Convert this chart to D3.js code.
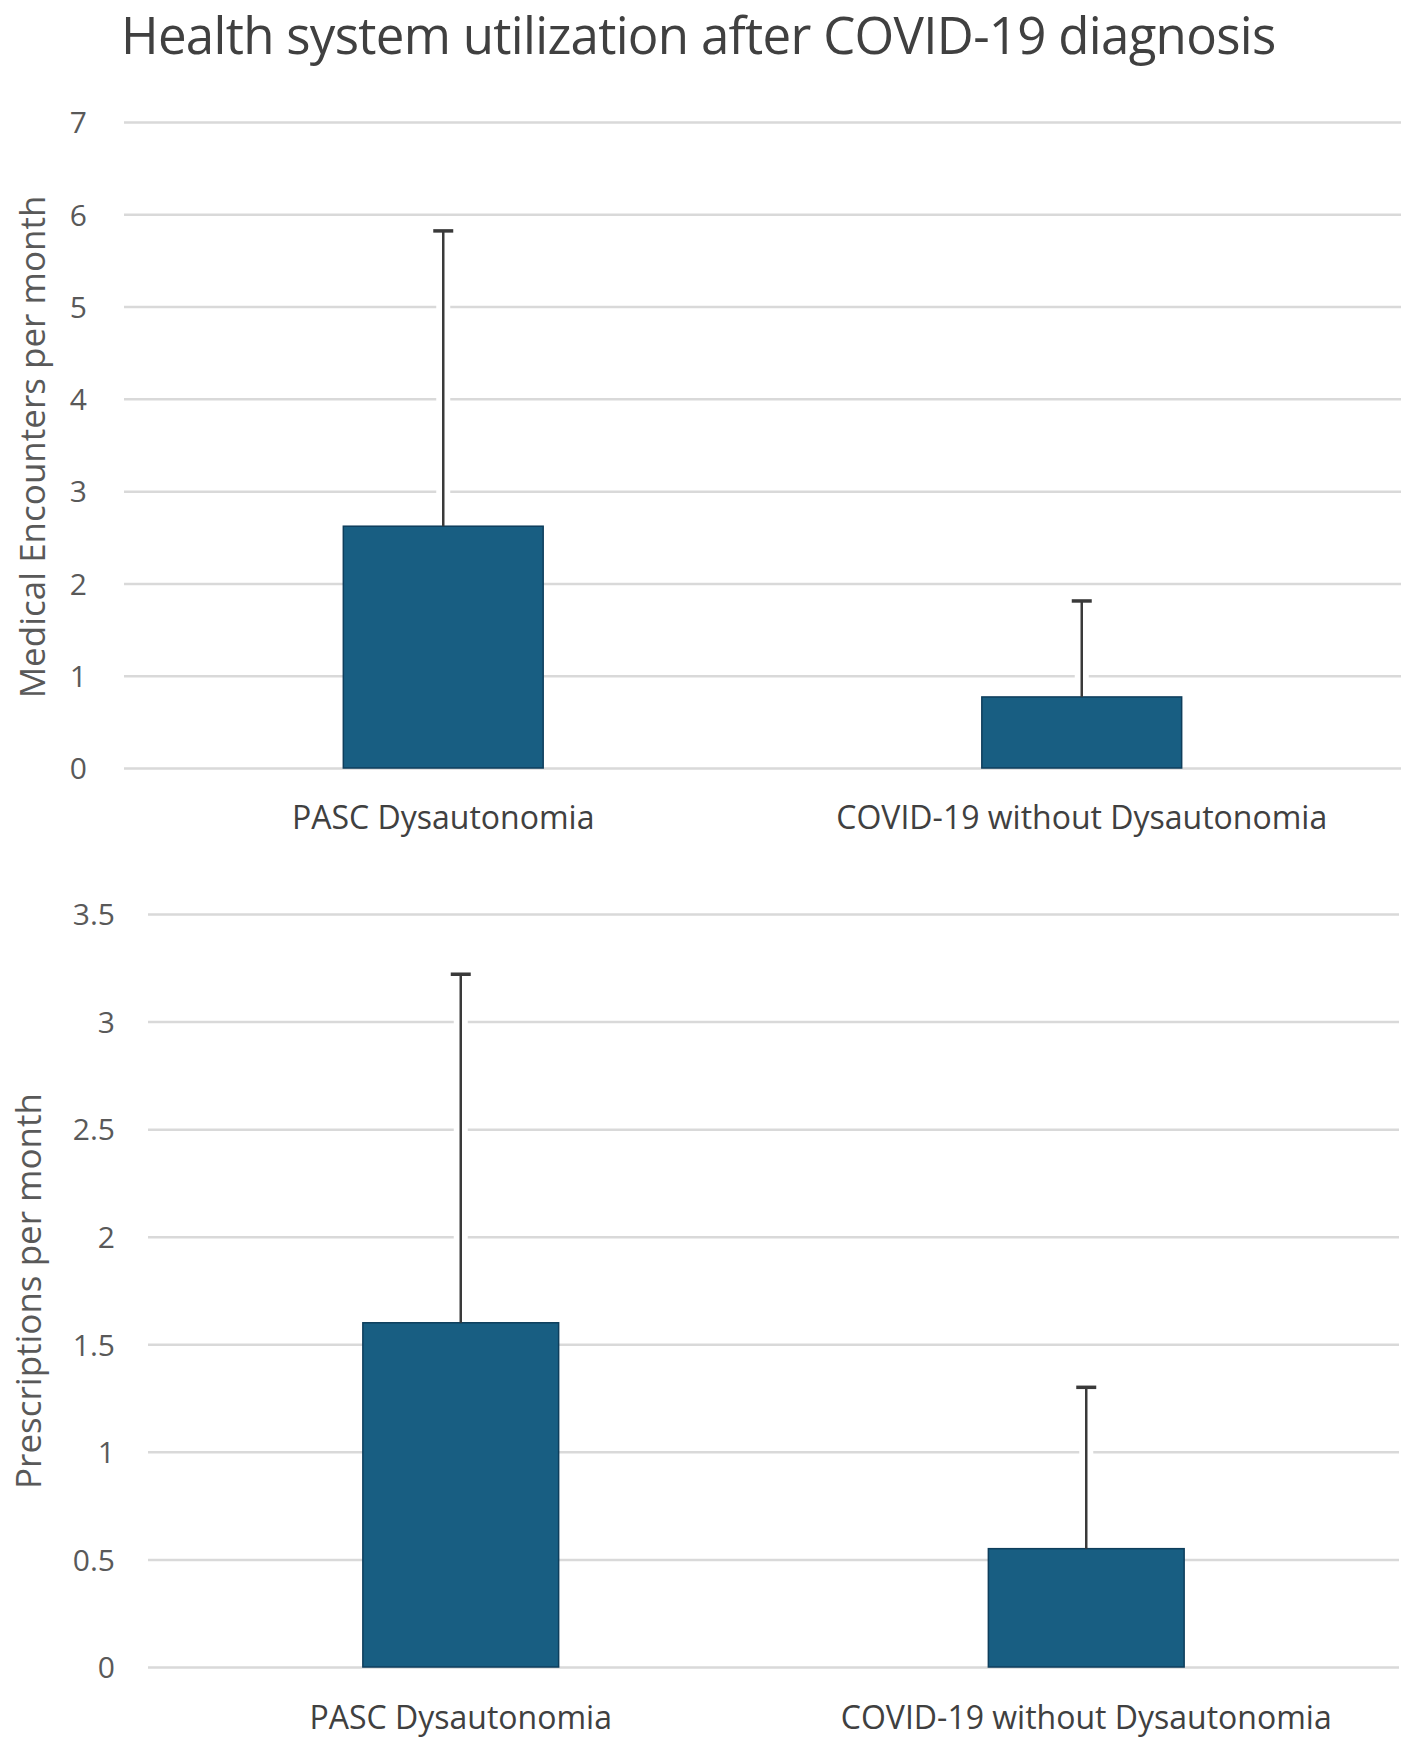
<!DOCTYPE html>
<html lang="en">
    <head>
        <meta charset="UTF-8" />
        <title>Health system utilization after COVID-19 diagnosis</title>
        <script src="https://d3js.org/d3.v7.min.js"></script>
        <style>
            body {
                margin: 0;
                padding: 0;
                background: #fff;
                font-family: 'Open Sans', sans-serif;
            }
            .grid line {
                stroke: #d9d9d9;
                stroke-width: 2.5px;
            }
            .grid text {
                fill: #595959;
                font-size: 30px;
                font-family: 'Open Sans', sans-serif;
            }
            .xlabel {
                fill: #404040;
                font-size: 32px;
            }
            .ytitle {
                fill: #595959;
                font-size: 35px;
            }
            .bar {
                fill: #185e82;
                stroke: #0e3e5c;
                stroke-width: 1.5px;
            }
            .err {
                stroke: #3a3a3a;
                stroke-width: 2.5px;
            }
        </style>
    </head>
    <body>
        <svg id="chart" width="1418" height="1742"></svg>

        <script>
            const categories = ['PASC Dysautonomia', 'COVID-19 without Dysautonomia'];

            // top panel: medical encounters per month (mean, mean + SD)
            const encounterMean = [2.62, 0.77];
            const encounterSD = [3.2, 1.04];
            const encounterTicks = [0, 1, 2, 3, 4, 5, 6, 7];

            // bottom panel: prescriptions per month
            const prescriptionMean = [1.6, 0.55];
            const prescriptionSD = [1.62, 0.75];
            const prescriptionTicks = [0, 0.5, 1, 1.5, 2, 2.5, 3, 3.5];

            const svg = d3.select('#chart');

            svg.append('text')
                .attr('x', 121)
                .attr('y', 54)
                .attr('fill', '#404040')
                .style('font-size', '51px')
                .style('letter-spacing', '-0.7px')
                .text('Health system utilization after COVID-19 diagnosis');

            const drawPanel = (cfg) => {
                const x = d3.scaleBand().domain(categories).range([cfg.left, cfg.right]).padding(0);
                const y = d3.scaleLinear().domain([0, d3.max(cfg.ticks)]).range([cfg.bottom, cfg.top]);
                const barW = x.bandwidth() * 0.313;

                const grid = svg.append('g')
                    .attr('class', 'grid')
                    .attr('transform', `translate(${cfg.left},0)`)
                    .call(d3.axisLeft(y).tickValues(cfg.ticks).tickSize(-(cfg.right - cfg.left)).tickPadding(cfg.pad).tickFormat(d3.format('')));
                grid.select('.domain').remove();
                grid.selectAll('text').attr('dy', '0.36em');

                const data = categories.map((c, i) => ({ cat: c, mean: cfg.mean[i], sd: cfg.sd[i] }));
                const cx = (d) => x(d.cat) + x.bandwidth() / 2;

                // white gap where the error line crosses the gridlines
                svg.selectAll(null)
                    .data(data)
                    .enter()
                    .append('line')
                    .attr('x1', cx)
                    .attr('x2', cx)
                    .attr('y1', (d) => y(d.mean))
                    .attr('y2', (d) => y(d.mean + d.sd))
                    .attr('stroke', '#fff')
                    .attr('stroke-width', 14);

                svg.selectAll(null)
                    .data(data)
                    .enter()
                    .append('rect')
                    .attr('class', 'bar')
                    .attr('x', (d) => cx(d) - barW / 2)
                    .attr('y', (d) => y(d.mean))
                    .attr('width', barW)
                    .attr('height', (d) => y(0) - y(d.mean));

                svg.selectAll(null)
                    .data(data)
                    .enter()
                    .append('line')
                    .attr('class', 'err')
                    .attr('x1', cx)
                    .attr('x2', cx)
                    .attr('y1', (d) => y(d.mean))
                    .attr('y2', (d) => y(d.mean + d.sd));

                svg.selectAll(null)
                    .data(data)
                    .enter()
                    .append('line')
                    .attr('class', 'err')
                    .style('stroke-width', '3.5px')
                    .attr('x1', (d) => cx(d) - 10)
                    .attr('x2', (d) => cx(d) + 10)
                    .attr('y1', (d) => y(d.mean + d.sd))
                    .attr('y2', (d) => y(d.mean + d.sd));

                svg.selectAll(null)
                    .data(categories)
                    .enter()
                    .append('text')
                    .attr('class', 'xlabel')
                    .attr('x', (d) => x(d) + x.bandwidth() / 2)
                    .attr('y', cfg.labelY)
                    .attr('text-anchor', 'middle')
                    .text((d) => d);

                svg.append('text')
                    .attr('class', 'ytitle')
                    .attr('transform', `translate(${cfg.titleX},${cfg.titleY}) rotate(-90)`)
                    .attr('text-anchor', 'middle')
                    .attr('dy', '0.35em')
                    .text(cfg.title);
            };

            drawPanel({
                left: 124, right: 1401, top: 122, bottom: 768, pad: 37,
                ticks: encounterTicks, mean: encounterMean, sd: encounterSD,
                labelY: 829, title: 'Medical Encounters per month', titleX: 33, titleY: 447,
            });

            drawPanel({
                left: 148, right: 1399, top: 914, bottom: 1667, pad: 33,
                ticks: prescriptionTicks, mean: prescriptionMean, sd: prescriptionSD,
                labelY: 1729, title: 'Prescriptions per month', titleX: 29, titleY: 1291,
            });
        </script>
    </body>
</html>
